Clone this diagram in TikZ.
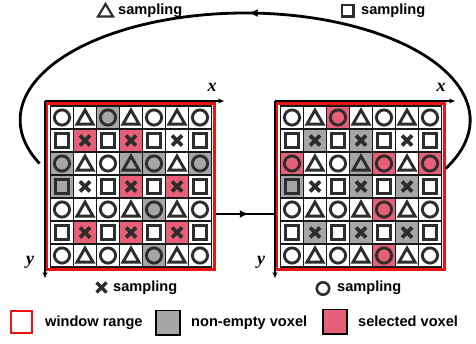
\documentclass[tikz,border=0pt]{standalone}
\usepackage{fontspec}
\setmainfont{Liberation Sans}
\newfontfamily\axisfont{Liberation Serif}
\usetikzlibrary{arrows.meta,decorations.markings}
\definecolor{selpink}{RGB}{232,96,120}
\definecolor{voxgray}{RGB}{166,166,166}
\definecolor{symdark}{RGB}{45,45,45}
\definecolor{winred}{RGB}{235,20,20}

\tikzset{
  cellline/.style={draw=black!90, line width=1.2pt},
  symline/.style={draw=symdark, line width=2.9pt},
  crossline/.style={draw=symdark, line width=3.6pt},
  winframe/.style={draw=winred, line width=2.2pt, inner sep=0pt, minimum width=167.5pt, minimum height=166pt},
  axisline/.style={draw=black, line width=1.1pt, -{Stealth[length=6pt,width=5pt]}},
  axislabel/.style={font=\axisfont\bfseries\itshape\fontsize{18}{20}\selectfont, inner sep=0pt},
  labeltext/.style={font=\bfseries\fontsize{14.6}{17}\selectfont, inner sep=0pt, anchor=base west},
  flowline/.style={draw=black, line width=2.8pt, postaction={decorate},
    decoration={markings, mark=at position #1 with {\arrow{Latex[length=9pt,width=8pt]}}}},
}

% one 7x7 voxel window: #1,#2 top-left corner, #3 grey cells, #4 selected cells
\newcommand\voxelgrid[4]{%
  \foreach \c/\r in {#3} {\fill[voxgray] (#1+\c*23,#2+\r*23) rectangle ++(23,23);}
  \foreach \c/\r in {#4} {\fill[selpink] (#1+\c*23,#2+\r*23) rectangle ++(23,23);}
  \foreach \r in {0,...,6} {
    \foreach \c in {0,...,6} {
      \pgfmathsetmacro\cx{#1+\c*23+11.5}
      \pgfmathsetmacro\cy{#2+\r*23+11.5}
      \pgfmathtruncatemacro\kind{2*mod(\r,2)+mod(\c,2)}
      \draw[cellline] (#1+\c*23,#2+\r*23) rectangle ++(23,23);
      \ifcase\kind
        \draw[symline] (\cx,\cy) circle (7.6);
      \or
        \draw[symline, line join=miter] (\cx-8,\cy+6.6) -- (\cx+8,\cy+6.6) -- (\cx,\cy-7.4) -- cycle;
      \or
        \draw[symline] (\cx-6.8,\cy-6.8) rectangle (\cx+6.8,\cy+6.8);
      \or
        \draw[crossline] (\cx-5,\cy-5) -- (\cx+5,\cy+5) (\cx-5,\cy+5) -- (\cx+5,\cy-5);
      \fi
    }
  }
}

\begin{document}
\begin{tikzpicture}[x={(1pt,0)}, y={(0,-1pt)}]
\useasboundingbox (0,0) rectangle (476,344);

% voxel windows
\voxelgrid{50.5}{106}
  {2/0, 0/2, 3/2, 4/2, 6/2, 0/3, 4/4, 4/6}
  {1/1, 3/1, 3/3, 5/3, 1/5, 3/5, 5/5}
\voxelgrid{280.5}{106}
  {1/1, 3/1, 3/2, 0/3, 3/3, 5/3, 1/5, 3/5, 5/5}
  {2/0, 0/2, 4/2, 6/2, 4/4, 4/6}

\node[winframe] (winL) at (130.75,186.5) {};
\node[winframe] (winR) at (360.75,186.5) {};

% axes
\coordinate (oL) at (45,101);
\coordinate (oR) at (275,101);
\draw[axisline] (oL) -- ++(179,0);
\draw[axisline] (oL) -- ++(0,177);
\draw[axisline] (oR) -- ++(180,0);
\draw[axisline] (oR) -- ++(0,177);
\node[axislabel] (xL) at (212,87) {x};
\node[axislabel] (yL) at (30,262) {y};
\node[axislabel] (xR) at (441,87) {x};
\node[axislabel] (yR) at (261,262) {y};

% flow between the windows
\coordinate (loopS) at ([yshift=17.9pt]winR.east);
\draw[flowline=0.5] (loopS) arc[start angle=27, end angle=-204, x radius=225, y radius=107];
\draw[flowline=0.55] ([yshift=-27.5pt]winL.east) -- ([yshift=-27.5pt]winR.west);

% sampling captions
\draw[draw=symdark, line width=2.2pt, line join=miter] (98,16.5) -- (113,16.5) -- (105.5,4) -- cycle;
\node[labeltext] (capTri) at (118,15) {sampling};
\draw[draw=symdark, line width=2.4pt] (342,5) rectangle (353.5,16.5);
\node[labeltext] (capSq) at (361,15) {sampling};
\draw[draw=symdark, line width=3.4pt] (96.5,282.5) -- (106.5,292.5) (96.5,292.5) -- (106.5,282.5);
\node[labeltext] (capX) at (113,291) {sampling};
\draw[draw=symdark, line width=2.6pt] (323,288.5) circle (6.2);
\node[labeltext] (capO) at (337,291) {sampling};

% legend
\draw[draw=winred, line width=2.2pt] (11,311) rectangle (32,333);
\node[labeltext] (lgWin) at (45,326.5) {window range};
\draw[fill=voxgray, draw=black, line width=1.2pt] (156,310.5) rectangle (180,335);
\node[labeltext] (lgVox) at (191,326.5) {non-empty voxel};
\draw[fill=selpink, draw=black, line width=1.2pt] (323,309.5) rectangle (347,334);
\node[labeltext] (lgSel) at (358,326.5) {selected voxel};
\end{tikzpicture}
\end{document}
